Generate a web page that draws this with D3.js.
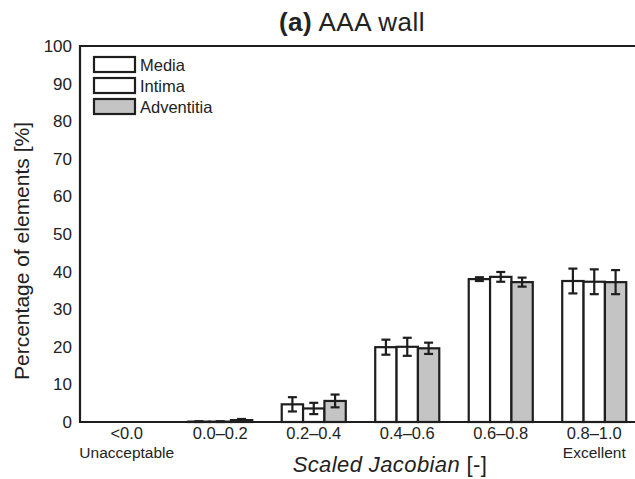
<!DOCTYPE html>
<html><head><meta charset="utf-8">
<script src="https://cdn.jsdelivr.net/npm/d3@7"></script>
<style>body{margin:0;background:#fff}svg{display:block}text{font-family:"Liberation Sans",Arial,sans-serif;fill:#222}</style>
</head><body><svg id="c" width="635" height="479"></svg>
<script>
const categories = ["<0.0","0.0\u20130.2","0.2\u20130.4","0.4\u20130.6","0.6\u20130.8","0.8\u20131.0"];
const subLabels = ["Unacceptable","","","","","Excellent"];
const series = ["Media","Intima","Adventitia"];
const mediaVals = [0.0, 0.1, 4.7, 19.9, 38.0, 37.5];
const intimaVals = [0.0, 0.1, 3.6, 20.0, 38.6, 37.3];
const adventitiaVals = [0.0, 0.5, 5.6, 19.6, 37.2, 37.2];
const mediaErr = [0.0, 0.1, 1.9, 2.0, 0.5, 3.3];
const intimaErr = [0.0, 0.1, 1.5, 2.4, 1.3, 3.3];
const adventitiaErr = [0.0, 0.3, 1.7, 1.5, 1.2, 3.2];
const yTicks = [0,10,20,30,40,50,60,70,80,90,100];
const fills = ["#ffffff","#ffffff","#c4c4c4"];

const vals = [mediaVals, intimaVals, adventitiaVals];
const errs = [mediaErr, intimaErr, adventitiaErr];
const svg = d3.select("#c");
const x0 = d3.scaleBand().domain(categories).range([80, 641]).paddingInner(0.315).paddingOuter(0.1575);
const x1 = d3.scaleBand().domain(series).range([0, x0.bandwidth()]);
const y = d3.scaleLinear().domain([0,100]).range([422, 46]);
const ink = "#1e1e1e";

// frame
svg.append("path").attr("d", `M645,${y(100)}H80V${y(0)}H645`).attr("fill","none").attr("stroke",ink).attr("stroke-width",2.2);

// y tick labels
svg.append("g").selectAll("text").data(yTicks).join("text")
  .attr("x", 72).attr("y", d => y(d) + 6).attr("text-anchor","end")
  .attr("font-size", 17).text(d => d);

// bars
categories.forEach((c, i) => {
  series.forEach((s, j) => {
    const v = vals[j][i], e = errs[j][i];
    const bx = x0(c) + x1(s), bw = x1.bandwidth();
    svg.append("rect").attr("x", bx).attr("y", y(v)).attr("width", bw).attr("height", y(0) - y(v))
      .attr("fill", fills[j]).attr("stroke", ink).attr("stroke-width", 2.2);
    if (e > 0) {
      const cx = bx + bw / 2;
      const g = svg.append("g").attr("stroke", ink).attr("stroke-width", 2.2);
      g.append("line").attr("x1", cx).attr("x2", cx).attr("y1", y(v - e)).attr("y2", y(v + e));
      g.append("line").attr("x1", cx - 4.5).attr("x2", cx + 4.5).attr("y1", y(v - e)).attr("y2", y(v - e));
      g.append("line").attr("x1", cx - 4.5).attr("x2", cx + 4.5).attr("y1", y(v + e)).attr("y2", y(v + e));
    }
  });
});

// x labels
const xl = svg.append("g");
categories.forEach((c, i) => {
  const cx = x0(c) + x0.bandwidth() / 2;
  xl.append("text").attr("x", cx).attr("y", 439).attr("text-anchor","middle").attr("font-size",16.5).text(c);
  if (subLabels[i]) xl.append("text").attr("x", cx).attr("y", 458).attr("text-anchor","middle").attr("font-size",15.5).text(subLabels[i]);
});

// axis titles
const xt = svg.append("text").attr("x", 390).attr("y", 472).attr("text-anchor","middle").attr("font-size",22).attr("letter-spacing",0.4);
xt.append("tspan").attr("font-style","italic").text("Scaled Jacobian");
xt.append("tspan").text(" [-]");
svg.append("text").attr("transform","translate(29,251) rotate(-90)").attr("text-anchor","middle").attr("font-size",21).text("Percentage of elements [%]");

// title
const t = svg.append("text").attr("x", 352).attr("y", 31).attr("text-anchor","middle").attr("font-size",26).attr("letter-spacing",0.5);
t.append("tspan").attr("font-weight","bold").text("(a)");
t.append("tspan").text(" AAA wall");

// legend
const lg = svg.append("g");
series.forEach((s, j) => {
  const ly = 57 + j * 21;
  lg.append("rect").attr("x", 94).attr("y", ly).attr("width", 41).attr("height", 15)
    .attr("fill", fills[j]).attr("stroke", ink).attr("stroke-width", 2.2);
  lg.append("text").attr("x", 140).attr("y", ly + 14).attr("font-size", 16.5).text(s);
});
</script></body></html>
